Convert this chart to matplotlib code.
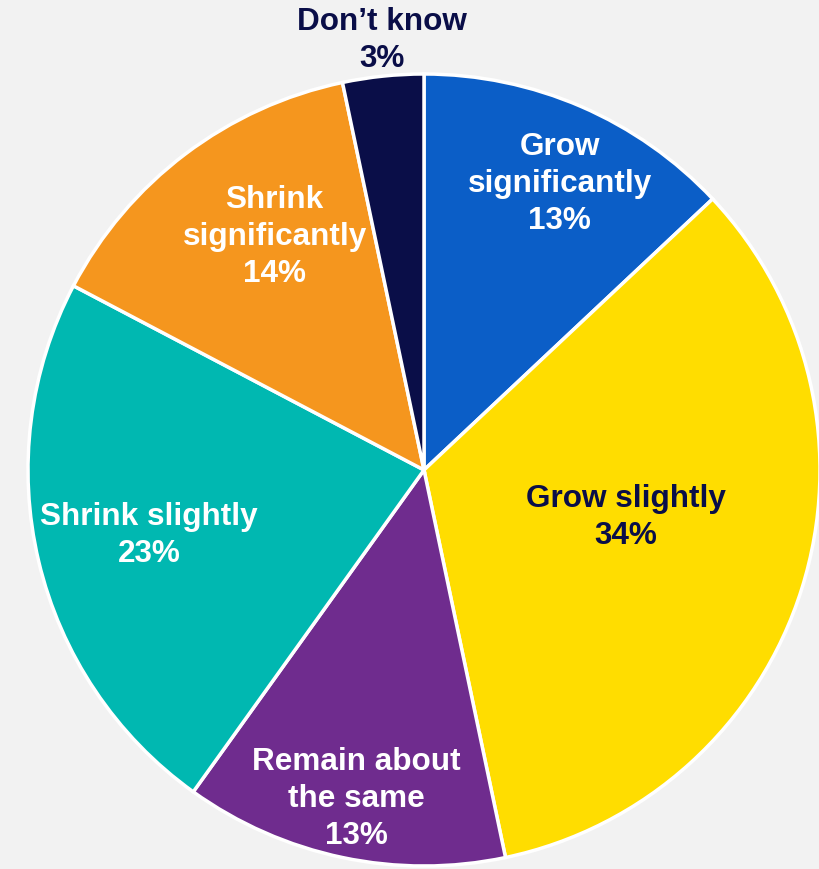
import numpy as np
import matplotlib
matplotlib.use("Agg")
import matplotlib.pyplot as plt

# data (wedge sizes; labels show the rounded shares)
labels = ["Grow\nsignificantly", "Grow slightly", "Remain about\nthe same",
          "Shrink slightly", "Shrink\nsignificantly", "Don\u2019t know"]
values = [13.0, 33.7, 13.2, 22.8, 14.0, 3.3]
pct_labels = ["13%", "34%", "13%", "23%", "14%", "3%"]
colors = ["#0b5ec7", "#ffdd00", "#6f2c8e", "#00b8b1", "#f5961e", "#0a0e48"]
text_colors = ["white", "#0a0e48", "white", "white", "white", "#0a0e48"]

# label placement: fraction of radius, angle shift from wedge middle (deg)
label_r = [0.80, 0.524, 0.848, 0.714, 0.698, 1.09]
label_shift = [-2.0, 4.3, 0.3, 0.0, -4.4, -0.3]

plt.rcParams["font.family"] = ["Liberation Sans", "DejaVu Sans"]

fig = plt.figure(figsize=(8.2, 8.69), dpi=100, facecolor="#f2f2f2")
ax = fig.add_axes([0, 0, 1, 1])
ax.set_facecolor("#f2f2f2")

wedges, _ = ax.pie(values, colors=colors, startangle=90, counterclock=False,
                   radius=1.0, wedgeprops=dict(edgecolor="white", linewidth=2.5))

for w, lab, pct, tc, r, s in zip(wedges, labels, pct_labels, text_colors, label_r, label_shift):
    mid = np.deg2rad((w.theta1 + w.theta2) / 2 + s)
    ax.text(r * np.cos(mid), r * np.sin(mid), f"{lab}\n{pct}", ha="center", va="center",
            color=tc, fontsize=22.7, fontweight="bold", linespacing=1.3)

ax.set_aspect("auto")
ax.set_xlim(-424 / 396, (820 - 424) / 396)
ax.set_ylim(-399 / 396, 470 / 396)
ax.axis("off")

fig.savefig("out.png", dpi=100, facecolor=fig.get_facecolor())
